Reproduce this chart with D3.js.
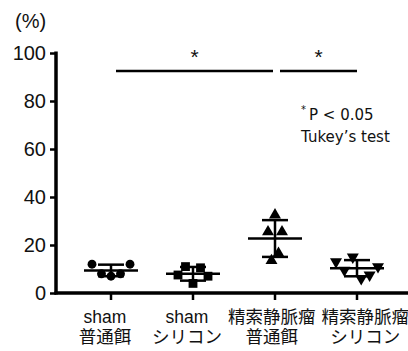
<!DOCTYPE html>
<html>
<head>
<meta charset="utf-8">
<script src="https://cdn.jsdelivr.net/npm/d3@7"></script>
<style>
  body { margin: 0; background: #fff; }
  svg { display: block; }
  text { fill: #111; }
</style>
</head>
<body>
<div id="chart"></div>
<script>
// data
var groups = ["g1", "g2", "g3", "g4"];
var labelTop = ["sham", "sham", "精索静脈瘤", "精索静脈瘤"];
var labelBottom = ["普通餌", "シリコン", "普通餌", "シリコン"];
var shamNormal = [12, 8, 7, 8, 12];
var shamSilicone = [7.5, 11, 4, 10.5, 7];
var varicoNormal = [25.5, 13.5, 32.5, 16.5, 25.5];
var varicoSilicone = [13, 9.5, 15, 6, 7.5, 11];
var yTicks = [0, 20, 40, 60, 80, 100];
var sigPairs = [[0, 2], [2, 3]];

var series = [shamNormal, shamSilicone, varicoNormal, varicoSilicone];
var symbols = [d3.symbolCircle, d3.symbolSquare, d3.symbolTriangle, d3.symbolTriangle];
var symbolSize = [62, 78, 62, 62];
var symbolRotate = [0, 0, 0, 180];
var spread = [9.5, 7.5, 3.5, 8.4];

var svgWidth = 408;
var svgHeight = 351;
var font = "'Liberation Sans', Arial, 'Noto Sans CJK JP', sans-serif";

var svg = d3.select("#chart")
  .append("svg")
  .attr("width", svgWidth)
  .attr("height", svgHeight)
  .style("font-family", font);

var axisX = 56;
var axisY = 293;

var x = d3.scalePoint()
  .domain(groups)
  .range([111, 357]);

var y = d3.scaleLinear()
  .domain([0, 100])
  .range([axisY, 53]);

// y axis
var leftAxis = d3.axisLeft(y)
  .tickValues(yTicks)
  .tickSize(6)
  .tickPadding(4);

var gy = svg.append("g")
  .attr("transform", `translate(${axisX},0)`)
  .call(leftAxis);
gy.select(".domain").remove();
gy.selectAll(".tick line").attr("stroke", "#000").attr("stroke-width", 2.5);
gy.selectAll(".tick text")
  .style("font-size", "20px")
  .style("font-family", font)
  .attr("fill", "#111");

svg.append("line")
  .attr("x1", axisX).attr("x2", axisX)
  .attr("y1", y(100) - 1.5).attr("y2", axisY + 1.5)
  .attr("stroke", "#000").attr("stroke-width", 3.5);

// x axis
svg.append("line")
  .attr("x1", axisX - 1.5).attr("x2", svgWidth)
  .attr("y1", axisY).attr("y2", axisY)
  .attr("stroke", "#000").attr("stroke-width", 3.5);

svg.selectAll(".xtick")
  .data(groups)
  .enter()
  .append("line")
  .attr("class", "xtick")
  .attr("x1", d => x(d)).attr("x2", d => x(d))
  .attr("y1", axisY).attr("y2", axisY + 7)
  .attr("stroke", "#000").attr("stroke-width", 2.5);

svg.append("text")
  .attr("x", 15)
  .attr("y", 28)
  .style("font-size", "20px")
  .text("(%)");

// x labels, nudged right when they would collide
var prevRight = -Infinity;
groups.forEach(function (g, i) {
  var lab = svg.append("g");
  lab.append("text")
    .attr("y", 323)
    .attr("text-anchor", "middle")
    .style("font-size", "17.5px")
    .text(labelTop[i]);
  lab.append("text")
    .attr("y", 343)
    .attr("text-anchor", "middle")
    .style("font-size", "17.5px")
    .text(labelBottom[i]);
  var w = lab.node().getBBox().width;
  var cx = x(g) - 6;
  if (cx - w / 2 < prevRight + 6) cx = prevRight + 6 + w / 2;
  lab.attr("transform", `translate(${cx},0)`);
  prevRight = cx + w / 2;
});

// mean and SD bars
series.forEach(function (vals, i) {
  var cx = x(groups[i]);
  var m = d3.mean(vals);
  var sd = d3.deviation(vals);
  var g = svg.append("g").attr("stroke", "#000").attr("stroke-width", 2.5);
  g.append("line")
    .attr("x1", cx).attr("x2", cx)
    .attr("y1", y(m + sd)).attr("y2", y(m - sd));
  g.append("line")
    .attr("x1", cx - 13).attr("x2", cx + 13)
    .attr("y1", y(m + sd)).attr("y2", y(m + sd));
  g.append("line")
    .attr("x1", cx - 13).attr("x2", cx + 13)
    .attr("y1", y(m - sd)).attr("y2", y(m - sd));
  g.append("line")
    .attr("x1", cx - 27).attr("x2", cx + 27)
    .attr("y1", y(m)).attr("y2", y(m));

  var n = vals.length;
  svg.append("g")
    .selectAll("path")
    .data(vals)
    .enter()
    .append("path")
    .attr("d", d3.symbol().type(symbols[i]).size(symbolSize[i]))
    .attr("transform", (d, j) =>
      `translate(${cx + (j - (n - 1) / 2) * spread[i]},${y(d)}) rotate(${symbolRotate[i]})`)
    .attr("fill", "#000");
});

// significance bars
var sigY = 71;
sigPairs.forEach(function (p, k) {
  var x1 = x(groups[p[0]]) + 5;
  var x2 = x(groups[p[1]]) - (k === 0 ? 2 : 0);
  svg.append("line")
    .attr("x1", x1).attr("x2", x2)
    .attr("y1", sigY).attr("y2", sigY)
    .attr("stroke", "#000").attr("stroke-width", 2.5);
  svg.append("text")
    .attr("x", (x1 + x2) / 2)
    .attr("y", sigY - 7)
    .attr("text-anchor", "middle")
    .style("font-size", "21px")
    .text("*");
});

// note
var note = svg.append("text")
  .attr("x", 301)
  .style("font-family", "'DejaVu Sans', sans-serif")
  .style("font-size", "15px");
note.append("tspan")
  .attr("y", 113)
  .style("font-size", "10px")
  .text("*");
note.append("tspan")
  .attr("y", 120)
  .attr("dx", 3)
  .text("P < 0.05");
note.append("tspan")
  .attr("x", 301)
  .attr("y", 142)
  .text("Tukey’s test");
</script>
</body>
</html>
